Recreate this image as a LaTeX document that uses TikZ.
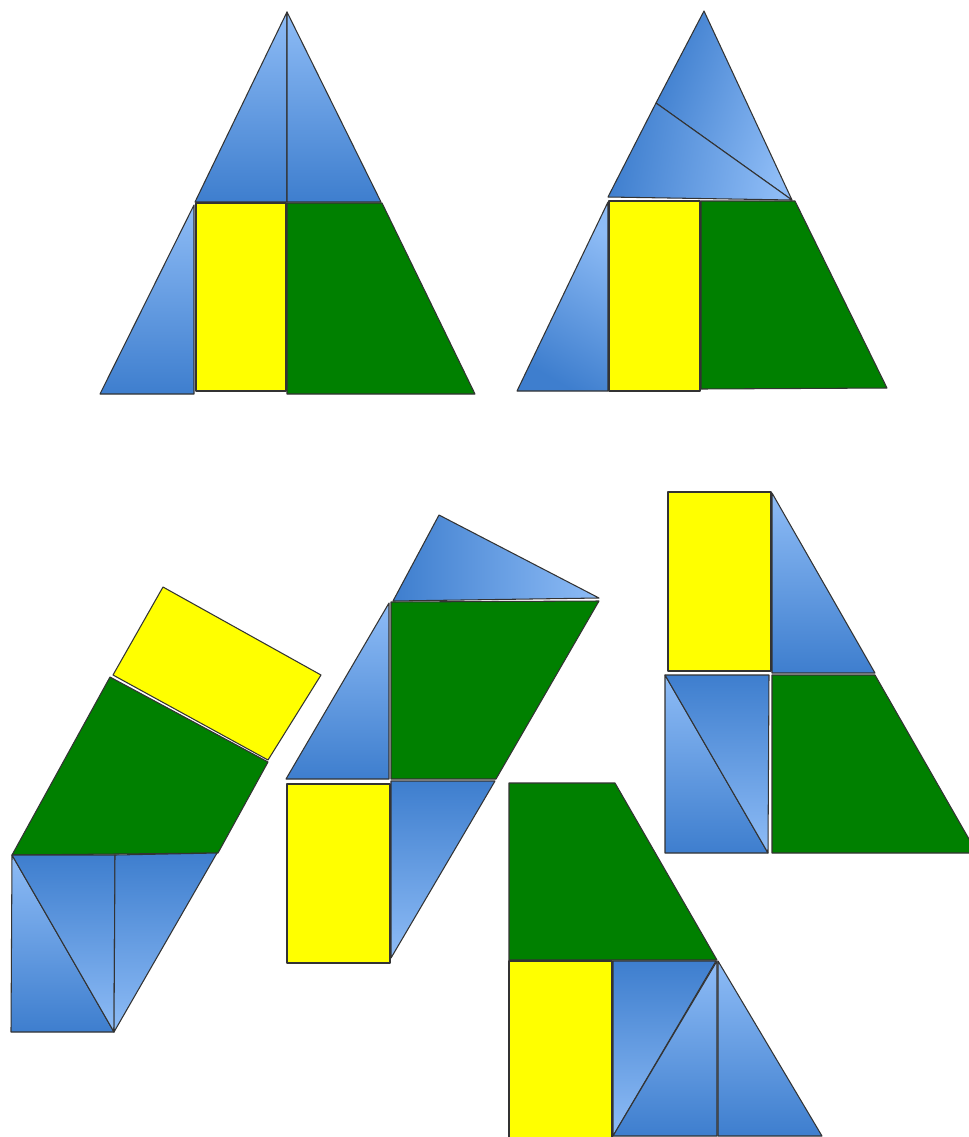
\documentclass[tikz,border=0pt]{standalone}
\definecolor{bluelight}{RGB}{142,188,246}
\definecolor{bluedark}{RGB}{62,126,206}
\definecolor{leafgreen}{RGB}{0,128,0}
\definecolor{brightyellow}{RGB}{255,255,0}
\begin{document}
\begin{tikzpicture}[x=0.02cm, y=-0.02cm, line width=0.6pt, line join=round,
		bluetri/.style={draw=black!80, top color=bluelight, bottom color=bluedark},
		bluerev/.style={draw=black!80, top color=bluedark, bottom color=bluelight},
		greenpc/.style={draw=black!80, fill=leafgreen},
		yellowpc/.style={draw=black!80, fill=brightyellow}]
				% 画布范围
				\useasboundingbox (0,0) rectangle (969,1137);
				\fill[white] (0,0) rectangle (969,1137);
				
				% 左上：原三角形
				\draw[bluetri] (287,12) -- (195,202) -- (287,202) -- cycle;
				\draw[bluetri] (287,12) -- (287,202) -- (381,202) -- cycle;
				\draw[bluetri] (194,205) -- (100,394) -- (194,394) -- cycle;
				\draw[yellowpc] (196,203) rectangle (286,391);
				\draw[greenpc] (287,203) -- (382,203) -- (475,394) -- (287,394) -- cycle;
				
				% 右上：顶部另一种切法
				\draw[bluerev, shading angle=70] (704,11) -- (656,103) -- (792,200) -- cycle;
				\draw[bluerev, shading angle=80] (656,103) -- (608,197) -- (792,200) -- cycle;
				\draw[bluetri, shading angle=-30] (608,202) -- (517,391) -- (608,391) -- cycle;
				\draw[yellowpc] (609,201) rectangle (700,391);
				\draw[greenpc] (701,201) -- (795,201) -- (887,388) -- (701,389) -- cycle;
				
				% 左下：倾斜拼法
				\draw[yellowpc] (163,587) -- (321,675) -- (268,760) -- (113,675) -- cycle;
				\draw[greenpc] (110,677) -- (268,762) -- (218,853) -- (12,855) -- cycle;
				\draw[bluetri] (12,855) -- (11,1032) -- (114,1032) -- cycle;
				\draw[bluerev] (12,855) -- (115,855) -- (114,1032) -- cycle;
				\draw[bluerev] (115,855) -- (217,853) -- (114,1032) -- cycle;
				
				% 中下：平行四边形拼法
				\draw[bluerev, shading angle=90] (439,515) -- (599,598) -- (393,601) -- cycle;
				\draw[greenpc] (391,602) -- (599,601) -- (496,779) -- (391,779) -- cycle;
				\draw[bluetri] (389,603) -- (286,779) -- (389,779) -- cycle;
				\draw[yellowpc] (287,784) rectangle (390,963);
				\draw[bluerev] (391,781) -- (495,781) -- (391,958) -- cycle;
				
				% 右中：矩形与梯形
				\draw[yellowpc] (668,492) rectangle (771,671);
				\draw[bluetri] (772,493) -- (772,673) -- (875,673) -- cycle;
				\draw[bluetri] (665,675) -- (665,853) -- (768,853) -- cycle;
				\draw[bluerev] (665,675) -- (769,675) -- (768,853) -- cycle;
				\draw[greenpc] (772,675) -- (875,675) -- (977,853) -- (772,853) -- cycle;
				
				% 底部：倒置拼法
				\draw[greenpc] (509,783) -- (615,783) -- (717,960) -- (509,960) -- cycle;
				\draw[yellowpc] (509,961) rectangle (612,1140);
				\draw[bluerev] (613,961) -- (716,961) -- (613,1136) -- cycle;
				\draw[bluetri] (717,961) -- (613,1136) -- (717,1136) -- cycle;
				\draw[bluetri] (718,961) -- (718,1136) -- (822,1136) -- cycle;
			\end{tikzpicture}
\end{document}
